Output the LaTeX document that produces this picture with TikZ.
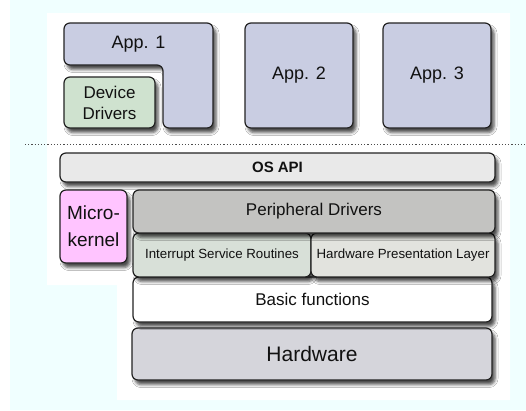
\documentclass[tikz,border=0pt]{standalone}
\usepackage{fontspec}
\setmainfont{Liberation Sans}
\usetikzlibrary{shadows.blur}
\definecolor{bgcyan}{HTML}{F0FFFF}
\definecolor{appcol}{HTML}{C9CDE2}
\definecolor{devcol}{HTML}{CFE2CF}
\definecolor{apicol}{HTML}{E9E9E9}
\definecolor{microcol}{HTML}{FFC4FF}
\definecolor{pericol}{HTML}{C3C3C1}
\definecolor{isrcol}{HTML}{D8E0D8}
\definecolor{hplcol}{HTML}{E2E3DE}
\definecolor{hwcol}{HTML}{D5D5DB}
\definecolor{edgecol}{HTML}{222222}
\definecolor{txtcol}{HTML}{111111}
\tikzset{
  shade/.style={blur shadow={shadow xshift=3pt, shadow yshift=-4.5pt, shadow blur radius=3pt, shadow opacity=70}},
  box/.style={draw=edgecol, line width=1.2pt, rounded corners=6pt, inner sep=0pt, outer sep=0pt, text=txtcol, align=center, shade},
  fsA/.style={font=\fontsize{18}{22}\selectfont},
  fsB/.style={font=\fontsize{17}{21}\selectfont},
  fsC/.style={font=\fontsize{13.3}{16}\selectfont},
  fsHW/.style={font=\fontsize{21}{25}\selectfont},
  sepline/.style={draw=black!70, line width=1pt, dash pattern=on 1.2pt off 2pt},
}
\begin{document}
\begin{tikzpicture}[x=1pt,y=-1pt]
\useasboundingbox (0,0) rectangle (526,410);
\fill[white] (0,0) rectangle (526,410);
\fill[bgcyan] (10,0) rectangle (526,410);
\fill[white] (47,13) -- (510,13) -- (510,400) -- (117,400) -- (117,285) -- (47,285) -- cycle;

% App 1 (L-shape)
\path[draw=edgecol, fill=appcol, line width=1.2pt, rounded corners=6pt, shade]
  (64,23) -- (213,23) -- (213,128) -- (163,128) -- (163,65) -- (64,65) -- cycle;
\node[fsA, text=txtcol] (app1) at (138.5,44) {App. 1};

\node[box, fill=devcol, fsB, minimum width=91pt, minimum height=51pt] (dev) at (109.5,102.5) {Device\\Drivers};
\node[box, fill=appcol, fsA, minimum width=108pt, minimum height=105pt] (app2) at (299,75.5) {App. 2};
\node[box, fill=appcol, fsA, minimum width=108pt, minimum height=105pt] (app3) at (437,75.5) {App. 3};

\coordinate (sepL) at (25,144);
\coordinate (sepR) at (526,144);
\draw[sepline] (sepL) -- (sepR);

\node[box, fill=apicol, font=\fontsize{15}{18}\selectfont\bfseries, minimum width=435pt, minimum height=29pt] (api) at (277.5,167.5) {OS API};
\node[box, fill=microcol, font=\fontsize{19}{27}\selectfont, minimum width=67pt, minimum height=73pt] (micro) at (93.5,226.5) {Micro-\\kernel};
\node[box, fill=hwcol, fsHW, minimum width=360pt, minimum height=52pt] (hw) at (312,354) {Hardware};
\node[box, fill=white, fsB, minimum width=359pt, minimum height=45pt] (basic) at (312.5,299.5) {Basic functions};
\node[box, fill=isrcol, fsC, minimum width=178pt, minimum height=44pt] (isr) at (222,255) {Interrupt Service Routines};
\node[box, fill=hplcol, fsC, minimum width=184pt, minimum height=44pt] (hpl) at (403,255) {Hardware Presentation Layer};
\node[box, fill=pericol, fsB, minimum width=362pt, minimum height=43pt] (peri) at (314,211.5) {Peripheral Drivers};
\end{tikzpicture}
\end{document}
